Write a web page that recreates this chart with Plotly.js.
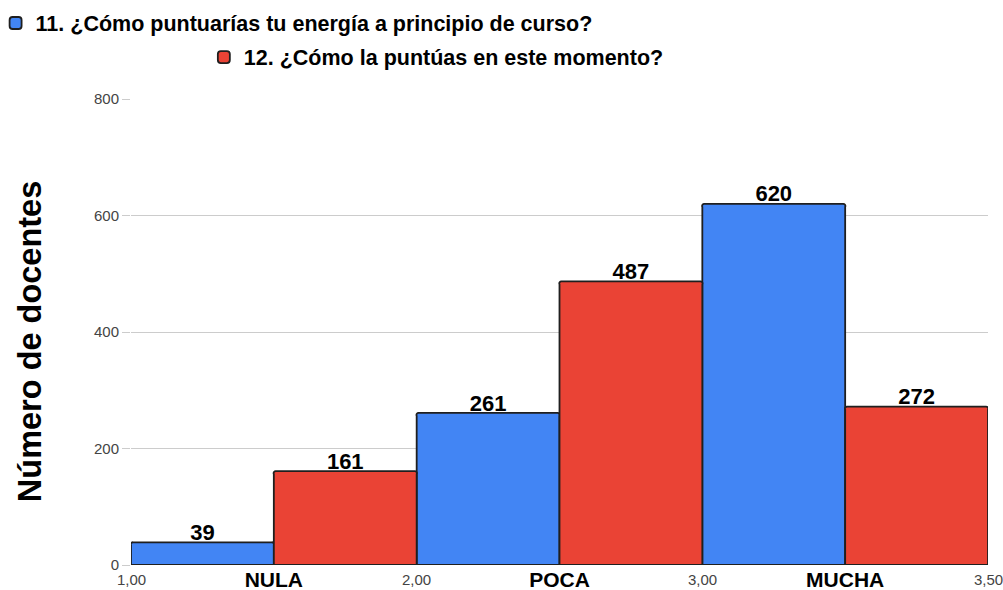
<!DOCTYPE html>
<html>
<head>
<meta charset="utf-8">
<script src="https://cdn.plot.ly/plotly-3.0.1.min.js"></script>
<style>html,body{margin:0;padding:0;background:#fff;}#chart{width:1003px;height:590px;}</style>
</head>
<body>
<div id="chart"></div>
<script>
const categories = ["NULA", "POCA", "MUCHA"];
const seriesNames = ["11. ¿Cómo puntuarías tu energía a principio de curso?", "12. ¿Cómo la puntúas en este momento?"];
const startValues = [39, 261, 620];
const nowValues = [161, 487, 272];
const edgeLabels = ["1,00", "2,00", "3,00", "3,50"];
const yTicks = [0, 200, 400, 600, 800];
const yTitle = "Número de docentes";

const FONT = "Liberation Sans, Arial, sans-serif";
const colors = ["#4285F4", "#EA4335"];
const series = [startValues, nowValues];

const traces = [];
series.forEach((vals, i) => {
  traces.push({
    type: "bar", x: categories, y: vals, name: seriesNames[i],
    offsetgroup: "g" + i,
    marker: {color: colors[i], line: {color: "#1f1f1f", width: 1.8}, cornerradius: 3},
    legend: i === 0 ? "legend" : "legend2",
    hoverinfo: "none"
  });
});
series.forEach((vals, i) => {
  traces.push({
    type: "scatter", mode: "markers+text", x: categories, y: vals, text: vals.map(String),
    yaxis: "y2",
    offsetgroup: "g" + i, textposition: "top center",
    marker: {size: 1, opacity: 0},
    textfont: {family: FONT, size: 22, color: "#000", weight: "bold"},
    cliponaxis: false, showlegend: false, hoverinfo: "none"
  });
});

const edgeAnn = edgeLabels.map((t, i) => ({
  x: i - 0.5, xref: "x", y: 0, yref: "paper", yanchor: "top", yshift: -4,
  text: t, showarrow: false, font: {family: FONT, size: 15, color: "#444"}
}));
edgeAnn.push({
  x: -0.118, xref: "paper", xanchor: "center", y: 0.48, yref: "paper", yanchor: "middle",
  text: yTitle, textangle: -90, showarrow: false,
  font: {family: FONT, size: 32.5, color: "#000", weight: "bold"}
});

const layout = {
  width: 1003, height: 590,
  margin: {l: 131, r: 15, t: 99, b: 25, autoexpand: false},
  paper_bgcolor: "#fff", plot_bgcolor: "#fff",
  barmode: "group", bargap: 0, bargroupgap: 0,
  scattermode: "group", scattergap: 0,
  showlegend: true,
  legend: {x: -0.158, xanchor: "left", y: 1.207, yanchor: "top", orientation: "h",
           font: {family: FONT, size: 21.5, color: "#000", weight: "bold"}, bgcolor: "rgba(0,0,0,0)", itemclick: false},
  legend2: {x: 0.085, xanchor: "left", y: 1.134, yanchor: "top", orientation: "h",
           font: {family: FONT, size: 21.5, color: "#000", weight: "bold"}, bgcolor: "rgba(0,0,0,0)", itemclick: false},
  xaxis: {
    type: "category", range: [-0.5, 2.5], showgrid: false, zeroline: false,
    showline: false, ticks: "", fixedrange: true,
    tickfont: {family: FONT, size: 21, color: "#000", weight: "bold"}
  },
  yaxis: {
    range: [0, 800], tickvals: yTicks, showgrid: true, gridcolor: "#cccccc", gridwidth: 1,
    zeroline: false, showline: false, ticks: "outside", ticklen: 8, tickcolor: "#cccccc",
    tickfont: {family: FONT, size: 15, color: "#444"},
    automargin: false, fixedrange: true
  },
  yaxis2: {overlaying: "y", range: [8, 808], visible: false, fixedrange: true},
  annotations: edgeAnn
};

Plotly.newPlot("chart", traces, layout, {displayModeBar: false, staticPlot: true});
</script>
</body>
</html>
